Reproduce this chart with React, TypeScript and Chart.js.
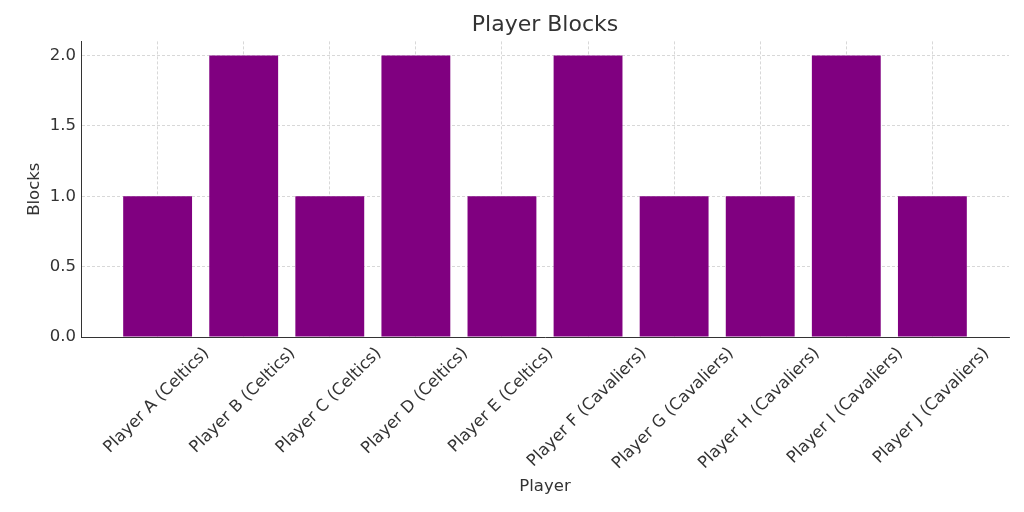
import React, { useEffect, useRef } from "react";
import { Chart, registerables } from "chart.js";

Chart.register(...registerables);

const categories: string[] = [
  "Player A (Celtics)",
  "Player B (Celtics)",
  "Player C (Celtics)",
  "Player D (Celtics)",
  "Player E (Celtics)",
  "Player F (Cavaliers)",
  "Player G (Cavaliers)",
  "Player H (Cavaliers)",
  "Player I (Cavaliers)",
  "Player J (Cavaliers)",
];
const blocks: number[] = [1, 2, 1, 2, 1, 2, 1, 1, 2, 1];
const yTicks: number[] = [0, 0.5, 1.0, 1.5, 2.0];

const FONT = "'DejaVu Sans', sans-serif";
const TEXT = "#333333";
const XTICK_SIZE = 16.5;

const xLabelPlugin = {
  id: "xLabels",
  afterDraw(chart: any) {
    const scale = chart.scales.x;
    const ctx = chart.ctx;
    const y0 = chart.chartArea.bottom + 7;
    ctx.save();
    ctx.font = `${XTICK_SIZE}px ${FONT}`;
    ctx.fillStyle = TEXT;
    ctx.textAlign = "center";
    ctx.textBaseline = "middle";
    categories.forEach((label, i) => {
      const x = scale.getPixelForValue(i);
      const L = ctx.measureText(label).width;
      const h = XTICK_SIZE * 1.164;
      const H = (L + h) * Math.SQRT1_2;
      ctx.save();
      ctx.translate(x - 1, y0 + H / 2);
      ctx.rotate(-Math.PI / 4);
      ctx.fillText(label, 0, 0);
      ctx.restore();
    });
    ctx.restore();
  },
};

export default function App() {
  const ref = useRef<HTMLCanvasElement | null>(null);
  useEffect(() => {
    if (!ref.current) return;
    const grid = {
      color: "rgba(190,190,190,0.75)",
      lineWidth: 0.8,
      drawTicks: false,
      offset: false,
    };
    const border = { display: true, color: "#333333", width: 1, dash: [3, 2] };
    const chart = new Chart(ref.current, {
      type: "bar",
      data: {
        datasets: [
          {
            label: "Blocks",
            data: blocks.map((v, i) => ({ x: i, y: v })),
            backgroundColor: "#800080",
            borderWidth: 0,
            barPercentage: 1,
            categoryPercentage: 0.8,
          },
        ],
      },
      plugins: [xLabelPlugin],
      options: {
        responsive: false,
        animation: false,
        layout: { padding: { left: 0, right: 15, top: 0, bottom: 0 } },
        plugins: {
          legend: { display: false },
          tooltip: { enabled: false },
          title: {
            display: true,
            text: "Player Blocks",
            color: TEXT,
            fullSize: false,
            font: { family: FONT, size: 22, weight: "normal", lineHeight: 1.2 },
            padding: { top: 12, bottom: 3 },
          },
        },
        scales: {
          x: {
            type: "linear",
            min: -0.89,
            max: 9.89,
            offset: false,
            z: 1,
            afterBuildTicks: (s: any) => {
              s.ticks = categories.map((_, i) => ({ value: i }));
            },
            afterFit: (s: any) => {
              s.height = 175;
            },
            ticks: { display: false },
            grid: { ...grid } as any,
            border: { ...border } as any,
            title: {
              display: true,
              text: "Player",
              color: TEXT,
              font: { family: FONT, size: 16.5, lineHeight: 1.2 },
              padding: { top: 0, bottom: 15 },
            },
          },
          y: {
            type: "linear",
            min: 0,
            max: 2.1,
            z: 1,
            afterBuildTicks: (s: any) => {
              s.ticks = yTicks.map((v) => ({ value: v }));
            },
            afterFit: (s: any) => {
              s.width = 81;
            },
            ticks: {
              color: TEXT,
              padding: 5,
              font: { family: FONT, size: 16.5 },
              callback: (v: any) => Number(v).toFixed(1),
            },
            grid: { ...grid } as any,
            border: { ...border } as any,
            title: {
              display: true,
              text: "Blocks",
              color: TEXT,
              font: { family: FONT, size: 16.5, lineHeight: 1.2 },
              padding: { top: 25, bottom: 0 },
            },
          },
        },
      } as any,
    });
    return () => chart.destroy();
  }, []);
  return (
    <div style={{ position: "absolute", left: 0, top: 0, width: 1024, height: 512, background: "#fff" }}>
      <canvas ref={ref} width={1024} height={512} />
    </div>
  );
}
